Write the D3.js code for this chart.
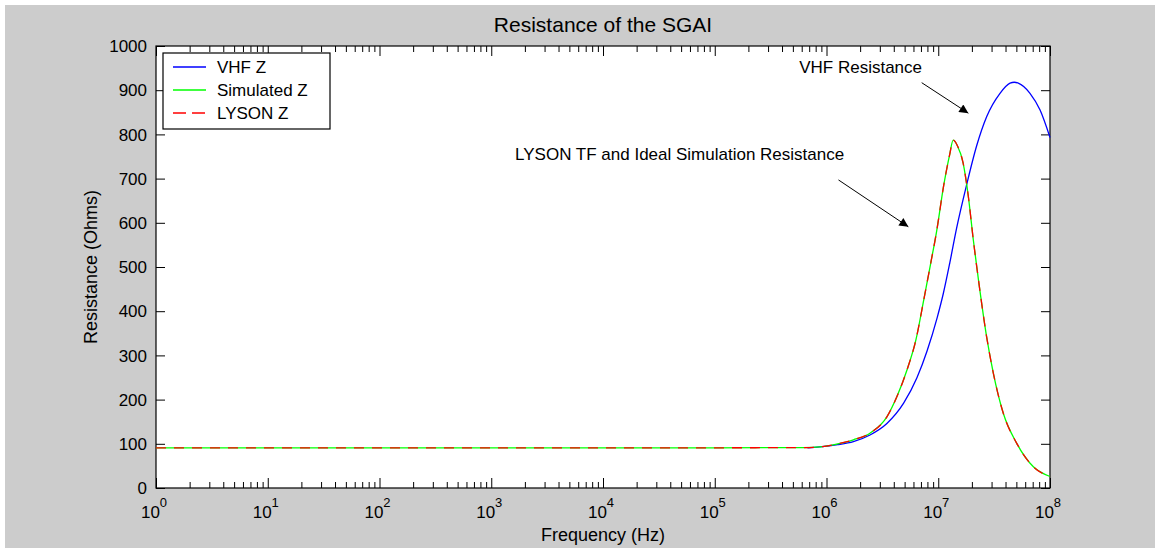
<!DOCTYPE html>
<html>
<head>
<meta charset="utf-8">
<script src="https://cdn.jsdelivr.net/npm/d3@7"></script>
<style>
  body { margin: 0; background: #ffffff; }
  svg { display: block; }
  text { font-family: "Liberation Sans", Arial, sans-serif; fill: #000; }
</style>
</head>
<body>
<svg id="chart"></svg>
<script>
// VHF measured resistance (starts around 0.7 MHz)
const vhfFreq = [6.76e5, 8.7e5, 1.26e6, 1.74e6, 2.45e6, 3.47e6, 4.9e6, 6.46e6, 7.94e6, 9.77e6,
  1.11e7, 1.27e7, 1.46e7, 1.79e7, 2.21e7, 2.71e7, 3.57e7, 4.39e7, 4.79e7, 5.2e7, 6.62e7, 8.15e7, 1e8];
const vhfR = [91, 93, 98, 105, 120, 146, 192, 250, 310, 385,
  440, 510, 588, 685, 775, 840, 893, 916, 918, 916, 893, 855, 793];

// ideal simulation
const simFreq = [1, 1e5, 6.3e5, 8.7e5, 1.26e6, 1.74e6, 2.45e6, 3.47e6, 4.27e6, 5.25e6, 6.31e6, 7.41e6,
  8.51e6, 9.66e6, 1.12e7, 1.26e7, 1.36e7, 1.48e7, 1.67e7, 1.86e7, 2.06e7, 2.29e7, 2.71e7, 3.11e7,
  3.82e7, 5.04e7, 7.1e7, 1e8];
const simR = [91, 91, 91.5, 93, 100, 109, 124, 161, 207, 267, 335, 425,
  505, 580, 685, 752, 787, 775, 735, 659, 561, 471, 342, 260,
  169, 101, 48, 26];

// LYSON transfer function (lies on top of the simulation)
const lysonFreq = [1, 1e5, 6.3e5, 8.7e5, 1.26e6, 1.74e6, 2.45e6, 3.47e6, 4.27e6, 5.25e6, 6.31e6, 7.41e6,
  8.51e6, 9.66e6, 1.12e7, 1.26e7, 1.36e7, 1.48e7, 1.67e7, 1.86e7, 2.06e7, 2.29e7, 2.71e7, 3.11e7,
  3.82e7, 5.04e7, 7.1e7, 1e8];
const lysonR = [91, 91, 91.5, 93, 100, 109, 124, 161, 207, 267, 335, 425,
  505, 580, 685, 752, 787, 775, 735, 659, 561, 471, 342, 260,
  169, 101, 48, 26];

const xExponents = [0, 1, 2, 3, 4, 5, 6, 7, 8];
const yTicks = [0, 100, 200, 300, 400, 500, 600, 700, 800, 900, 1000];
const legendNames = ["VHF Z", "Simulated Z", "LYSON Z"];

// annotation text and arrows in data coordinates
const notes = [
  { text: "VHF Resistance", f: 7.16e6, r: 940, anchor: "end" },
  { text: "LYSON TF and Ideal Simulation Resistance", f: 1633, r: 742, anchor: "start" }
];
const arrows = [
  { f0: 7.11e6, r0: 917, f1: 1.86e7, r1: 848 },
  { f0: 1.28e6, r0: 697, f1: 5.4e6, r1: 591 }
];

const W = 1155, H = 548;
const margin = { left: 156, right: 105, top: 46, bottom: 60 };
const width = W - margin.left - margin.right;
const height = H - margin.top - margin.bottom;

let svg, plot, x, y;

document.addEventListener("DOMContentLoaded", function () {
  svg = d3.select("#chart").attr("width", W).attr("height", H);
  svg.append("rect").attr("x", 5).attr("y", 5).attr("width", W - 5).attr("height", H - 5)
    .attr("fill", "#cccccc");

  plot = svg.append("g").attr("transform", `translate(${margin.left},${margin.top})`);
  plot.append("rect").attr("width", width).attr("height", height).attr("fill", "#ffffff");

  x = d3.scaleLog().domain([1, 1e8]).range([0, width]);
  y = d3.scaleLinear().domain([0, 1000]).range([height, 0]);

  drawAxes();
  drawLines();
  drawNotes();
  drawLegend();
});

function drawAxes() {
  const minor = [];
  xExponents.slice(0, -1).forEach(e => {
    for (let k = 2; k <= 9; k++) minor.push(k * Math.pow(10, e));
  });
  const major = xExponents.map(e => Math.pow(10, e));

  // ticks point inward, on all four sides
  plot.append("g").attr("transform", `translate(0,${height})`)
    .call(d3.axisBottom(x).tickValues(minor).tickSize(-6).tickFormat(""));
  plot.append("g").attr("transform", `translate(0,${height})`)
    .call(d3.axisBottom(x).tickValues(major).tickSize(-10).tickFormat(""));
  plot.append("g").call(d3.axisTop(x).tickValues(minor).tickSize(-6).tickFormat(""));
  plot.append("g").call(d3.axisTop(x).tickValues(major).tickSize(-10).tickFormat(""));
  plot.append("g").call(d3.axisLeft(y).tickValues(yTicks).tickSize(-9).tickFormat(""));
  plot.append("g").attr("transform", `translate(${width},0)`)
    .call(d3.axisRight(y).tickValues(yTicks).tickSize(-9).tickFormat(""));
  plot.selectAll(".domain").remove();
  plot.selectAll(".tick line").attr("stroke", "#000");

  plot.append("rect").attr("width", width).attr("height", height)
    .attr("fill", "none").attr("stroke", "#000").attr("stroke-width", 1.2);

  // y labels
  plot.selectAll(".ylab").data(yTicks).join("text")
    .attr("class", "ylab")
    .attr("x", -9).attr("y", d => y(d)).attr("dy", "0.36em")
    .attr("text-anchor", "end").style("font-size", "17px")
    .text(d => d);

  // x labels 10^n
  const xl = plot.selectAll(".xlab").data(xExponents).join("text")
    .attr("class", "xlab")
    .attr("x", d => x(Math.pow(10, d)) - 2).attr("y", height + 30)
    .attr("text-anchor", "middle").style("font-size", "17px");
  xl.append("tspan").text("10");
  xl.append("tspan").attr("dy", -11).style("font-size", "13px").text(d => d);

  plot.append("text").attr("x", width / 2).attr("y", height + 53)
    .attr("text-anchor", "middle").style("font-size", "18px")
    .text("Frequency (Hz)");

  plot.append("text").attr("transform", "rotate(-90)")
    .attr("x", -height / 2).attr("y", -59)
    .attr("text-anchor", "middle").style("font-size", "18px")
    .text("Resistance (Ohms)");

  svg.append("text").attr("x", margin.left + width / 2).attr("y", 32)
    .attr("text-anchor", "middle").style("font-size", "21px")
    .text("Resistance of the SGAI");
}

function drawLines() {
  const line = d3.line()
    .x(d => x(d[0]))
    .y(d => y(d[1]))
    .curve(d3.curveMonotoneX);

  plot.append("path").datum(d3.zip(vhfFreq, vhfR))
    .attr("d", line).attr("fill", "none").attr("stroke", "#0000ff").attr("stroke-width", 1.3);
  plot.append("path").datum(d3.zip(simFreq, simR))
    .attr("d", line).attr("fill", "none").attr("stroke", "#00ff00").attr("stroke-width", 1.3);
  plot.append("path").datum(d3.zip(lysonFreq, lysonR))
    .attr("d", line).attr("fill", "none").attr("stroke", "#ff0000").attr("stroke-width", 1.3)
    .attr("stroke-dasharray", "10,8");
}

function drawNotes() {
  svg.append("defs").append("marker")
    .attr("id", "head").attr("viewBox", "0 0 10 10")
    .attr("refX", 10).attr("refY", 5)
    .attr("markerWidth", 12).attr("markerHeight", 9)
    .attr("markerUnits", "userSpaceOnUse")
    .attr("orient", "auto")
    .append("path").attr("d", "M0,0L10,5L0,10Z").attr("fill", "#000");

  plot.selectAll(".note").data(notes).join("text")
    .attr("class", "note")
    .attr("x", d => x(d.f)).attr("y", d => y(d.r))
    .attr("text-anchor", d => d.anchor).style("font-size", "17px")
    .text(d => d.text);

  plot.selectAll(".arrow").data(arrows).join("line")
    .attr("class", "arrow")
    .attr("x1", d => x(d.f0)).attr("y1", d => y(d.r0))
    .attr("x2", d => x(d.f1)).attr("y2", d => y(d.r1))
    .attr("stroke", "#000").attr("stroke-width", 1)
    .attr("marker-end", "url(#head)");
}

function drawLegend() {
  const lg = svg.append("g").attr("transform", "translate(163,53)");
  lg.append("rect").attr("width", 167).attr("height", 76)
    .attr("fill", "#fff").attr("stroke", "#000").attr("stroke-width", 1.2);
  const colors = ["#0000ff", "#00ff00", "#ff0000"];
  const rows = lg.selectAll(".row").data(legendNames).join("g")
    .attr("class", "row")
    .attr("transform", (d, i) => `translate(0,${14 + i * 23})`);
  rows.append("line").attr("x1", 10).attr("x2", 43)
    .attr("stroke", (d, i) => colors[i]).attr("stroke-width", 1.3)
    .attr("stroke-dasharray", (d, i) => i === 2 ? "13,6" : null);
  rows.append("text").attr("x", 54).attr("dy", "0.36em")
    .style("font-size", "17px").text(d => d);
}
</script>
</body>
</html>
